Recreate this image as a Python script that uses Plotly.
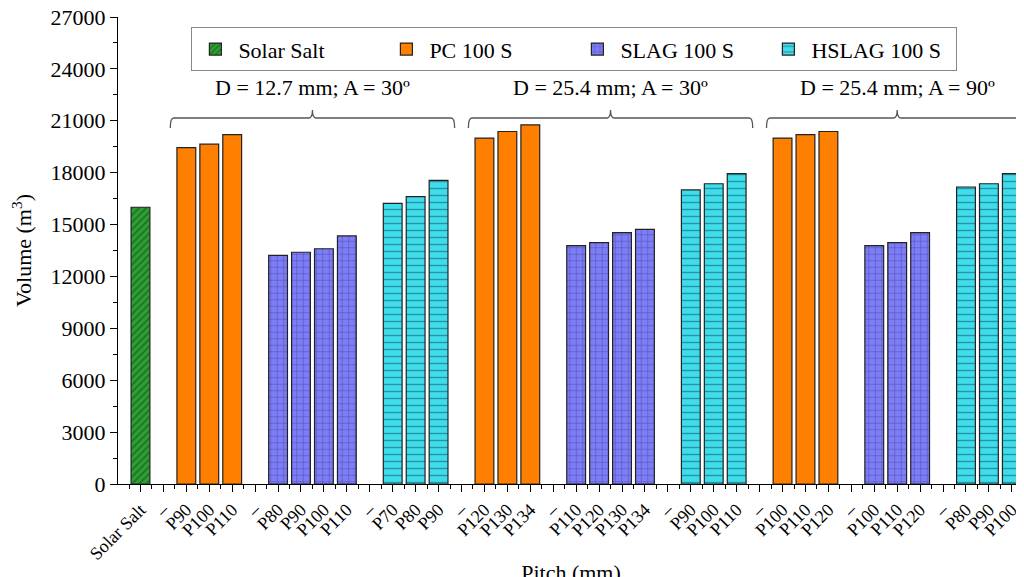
import plotly.graph_objects as go

# ---------------- data ----------------
solar_cat = ["Solar Salt"]
solar_val = [16000]

g1_pc_cat = ["P90", "P100", "P110"]
g1_pc_val = [19450, 19650, 20200]
g1_slag_cat = ["P80", "P90", "P100", "P110"]
g1_slag_val = [13220, 13400, 13600, 14340]
g1_hslag_cat = ["P70", "P80", "P90"]
g1_hslag_val = [16230, 16610, 17560]

g2_pc_cat = ["P120", "P130", "P134"]
g2_pc_val = [20000, 20380, 20760]
g2_slag_cat = ["P110", "P120", "P130", "P134"]
g2_slag_val = [13780, 13950, 14530, 14720]
g2_hslag_cat = ["P90", "P100", "P110"]
g2_hslag_val = [17000, 17360, 17940]

g3_pc_cat = ["P100", "P110", "P120"]
g3_pc_val = [20000, 20200, 20380]
g3_slag_cat = ["P100", "P110", "P120"]
g3_slag_val = [13780, 13950, 14530]
g3_hslag_cat = ["P80", "P90", "P100"]
g3_hslag_val = [17170, 17360, 17940]

group_titles = ["D = 12.7 mm; A = 30º", "D = 25.4 mm; A = 30º", "D = 25.4 mm; A = 90º"]
series_names = ["Solar Salt", "PC 100 S", "SLAG 100 S", "HSLAG 100 S"]
gap_label = "–"

groups = [
    [(g1_pc_cat, g1_pc_val), (g1_slag_cat, g1_slag_val), (g1_hslag_cat, g1_hslag_val)],
    [(g2_pc_cat, g2_pc_val), (g2_slag_cat, g2_slag_val), (g2_hslag_cat, g2_hslag_val)],
    [(g3_pc_cat, g3_pc_val), (g3_slag_cat, g3_slag_val), (g3_hslag_cat, g3_hslag_val)],
]

# ---------------- slot layout ----------------
tick_vals, tick_text = [], []
series_x = {n: [] for n in series_names}
series_y = {n: [] for n in series_names}
group_spans = []

slot = 0
for c, v in zip(solar_cat, solar_val):
    tick_vals.append(slot); tick_text.append(c)
    series_x["Solar Salt"].append(slot); series_y["Solar Salt"].append(v)
    slot += 1

for g in groups:
    first = None
    for (cats, vals), name in zip(g, series_names[1:]):
        tick_vals.append(slot); tick_text.append(gap_label)
        slot += 1
        for c, v in zip(cats, vals):
            if first is None:
                first = slot
            tick_vals.append(slot); tick_text.append(c)
            series_x[name].append(slot); series_y[name].append(v)
            slot += 1
    group_spans.append((first, slot - 1))

styles = {
    "Solar Salt": dict(color="#2f9e34", pattern=dict(shape="/", fgcolor="#0b4a10", size=5, solidity=0.35, fillmode="overlay")),
    "PC 100 S": dict(color="#ff8000"),
    "SLAG 100 S": dict(color="#7d7df5", pattern=dict(shape="+", fgcolor="#1b1b6a", size=6.5, solidity=0.15, fillmode="overlay")),
    "HSLAG 100 S": dict(color="#3fdcec", pattern=dict(shape="-", fgcolor="#0c4e58", size=7, solidity=0.2, fillmode="overlay")),
}

fig = go.Figure()
for name in series_names:
    st = styles[name]
    marker = dict(color=st["color"], line=dict(color="#222222", width=1.2))
    if "pattern" in st:
        marker["pattern"] = st["pattern"]
    fig.add_trace(go.Bar(x=series_x[name], y=series_y[name], name=name,
                         marker=marker, width=0.82))

# ---------------- braces & group titles ----------------
y_line = 21160
y_end = 20580
y_peak = 21620
y_text = 22900
shapes = []
annotations = []
for (first, last), title in zip(group_spans, group_titles):
    x0 = first - 0.7
    x1 = last + 0.7
    xm = (x0 + x1) / 2
    r = 0.15
    path = (f"M {x0},{y_end} Q {x0},{y_line} {x0 + r},{y_line} "
            f"L {xm - r},{y_line} Q {xm},{y_line} {xm},{y_peak} "
            f"Q {xm},{y_line} {xm + r},{y_line} "
            f"L {x1 - r},{y_line} Q {x1},{y_line} {x1},{y_end}")
    shapes.append(dict(type="path", path=path, xref="x", yref="y",
                       line=dict(color="#555555", width=1.3)))
    annotations.append(dict(x=xm, y=y_text, xref="x", yref="y", text=title,
                            showarrow=False, font=dict(size=22, color="black",
                                                       family="Liberation Serif")))

font_family = "Liberation Serif"
# page body adds an 8px offset; margins compensate so the plot area lands where the reference has it
fig.update_layout(
    width=1024, height=577,
    margin=dict(l=110, r=8, t=9, b=101),
    plot_bgcolor="white", paper_bgcolor="white",
    font=dict(family=font_family, color="black"),
    barmode="overlay",
    shapes=shapes,
    annotations=annotations,
    legend=dict(orientation="h", x=0.081, y=0.978, xanchor="left", yanchor="top",
                bordercolor="#888888", borderwidth=1, bgcolor="white",
                font=dict(size=22, family=font_family),
                entrywidth=140, entrywidthmode="pixels", itemwidth=36),
    showlegend=True,
)
fig.update_xaxes(
    range=[-0.98, 38.53], tickmode="array", tickvals=tick_vals, ticktext=tick_text,
    tickangle=-45, tickfont=dict(size=18, family=font_family), automargin=False,
    ticklabeloverflow="allow",
    showline=True, linecolor="black", linewidth=1.3, showgrid=False, zeroline=False,
    ticks="outside", ticklen=7, tickcolor="black",
    minor=dict(tickmode="linear", tick0=-0.5, dtick=1, ticks="outside", ticklen=4, tickcolor="black"),
    title=dict(text="Pitch (mm)", font=dict(size=22, family=font_family), standoff=4),
)
fig.update_yaxes(
    range=[0, 27000], tickmode="linear", tick0=0, dtick=3000, tickformat="d",
    tickfont=dict(size=22, family=font_family), automargin=False,
    ticklabeloverflow="allow",
    showline=True, linecolor="black", linewidth=1.3, showgrid=False, zeroline=False,
    ticks="outside", ticklen=7, tickcolor="black",
    minor=dict(tickmode="linear", tick0=0, dtick=1500, ticks="outside", ticklen=4, tickcolor="black"),
    title=dict(text="Volume (m<sup>3</sup>)", font=dict(size=22, family=font_family), standoff=14),
)

fig.write_html("out.html")
